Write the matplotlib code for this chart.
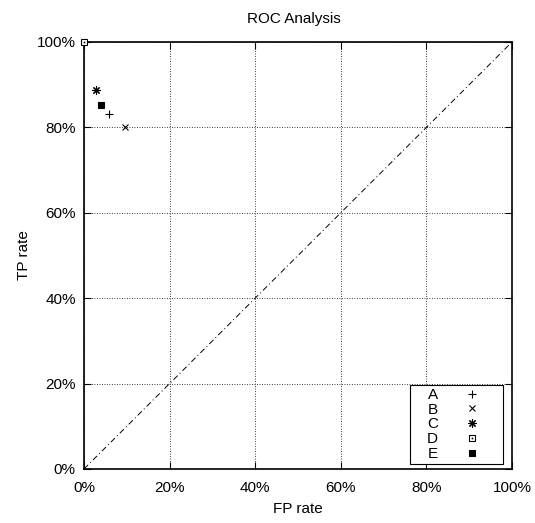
import numpy as np
from matplotlib import pyplot as plt
from matplotlib.ticker import FuncFormatter

plt.rcParams['font.family'] = ['Liberation Sans', 'DejaVu Sans']

# classifier points (FP rate, TP rate)
names = ["A", "B", "C", "D", "E"]
fp_rate = [0.058, 0.096, 0.028, 0.0, 0.040]
tp_rate = [0.831, 0.801, 0.888, 1.0, 0.852]
markers = ["+", "x", (8, 2, 0), "s", "s"]
sizes = [6, 5, 6, 4.5, 5]
filled = [True, True, True, False, True]

fig = plt.figure(figsize=(5.35, 5.23), dpi=100)
ax = fig.add_axes([0.157, 0.1033, 0.8, 0.8164])

ax.plot([0, 1], [0, 1], color="black", lw=0.7, linestyle=(0, (6, 3, 1, 3)))

handles = []
for n, x, y, m, s, f in zip(names, fp_rate, tp_rate, markers, sizes, filled):
    h, = ax.plot([x], [y], linestyle="none", marker=m, markersize=s,
                 color="black", markerfacecolor="black" if f else "white",
                 markeredgewidth=0.8, clip_on=False, zorder=5)
    if not f:
        # box with a dot in the middle
        d, = ax.plot([x], [y], linestyle="none", marker="s", markersize=1.2,
                     color="black", markeredgewidth=0, clip_on=False, zorder=6)
        h = (h, d)
    handles.append(h)

ax.set_xlim(0, 1)
ax.set_ylim(0, 1)
ticks = np.arange(0, 1.01, 0.2)
ax.set_xticks(ticks)
ax.set_yticks(ticks)
pct = FuncFormatter(lambda v, p: "%d%%" % round(v * 100))
ax.xaxis.set_major_formatter(pct)
ax.yaxis.set_major_formatter(pct)
ax.tick_params(direction="in", top=True, right=True, length=5, width=0.8,
               labelsize=11)
ax.tick_params(axis="x", pad=9)
ax.tick_params(axis="y", pad=6)
ax.grid(True, color="black", linestyle=(0, (1, 2)), lw=0.6)
for sp in ax.spines.values():
    sp.set_linewidth(1.2)

ax.set_xlabel("FP rate", fontsize=11, labelpad=4.5)
ax.set_ylabel("TP rate", fontsize=11)
ax.set_title("ROC Analysis", fontsize=11, pad=14, x=0.491)

leg = ax.legend(handles, names, loc="lower right",
                bbox_to_anchor=(0.979, 0.0117), markerfirst=False, fontsize=11,
                fancybox=False, framealpha=1, edgecolor="black",
                handletextpad=1.3, labelspacing=0.05, borderpad=0.2,
                borderaxespad=0, handlelength=3.66)
leg.get_frame().set_linewidth(0.8)
for t in leg.get_texts():
    t.set_x(14)

fig.savefig("out.png", dpi=100)
